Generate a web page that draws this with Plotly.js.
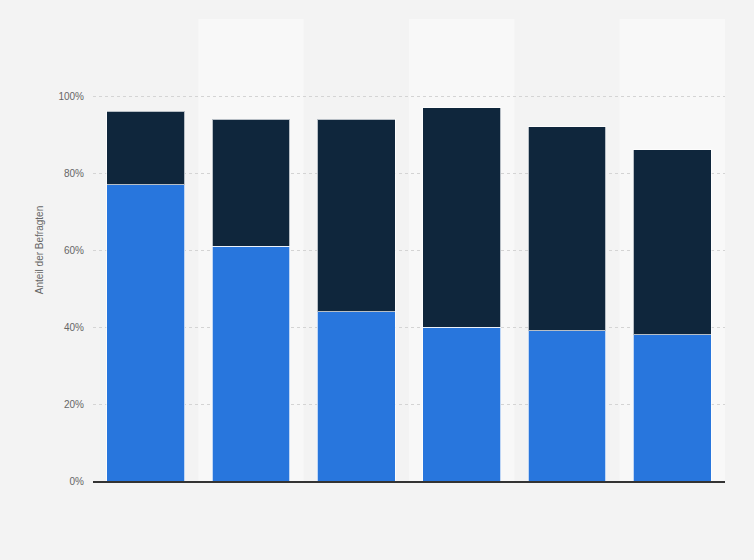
<!DOCTYPE html>
<html>
<head>
<meta charset="utf-8">
<script src="https://cdn.plot.ly/plotly-3.0.1.min.js"></script>
<style>
  html, body { margin: 0; padding: 0; background: #f4f4f4; }
  #chart { width: 754px; height: 560px; }
</style>
</head>
<body>
<div id="chart"></div>
<script>
// Categories (no labels shown in the reference)
const categories = ['A', 'B', 'C', 'D', 'E', 'F'];

// Lower (blue) segment and upper (dark) segment, in percent
const lowerValues = [77, 61, 44, 40, 39, 38];
const upperValues = [19, 33, 50, 57, 53, 48];

const yTickVals = [0, 20, 40, 60, 80, 100, 120];
const yTickText = ['0%', '20%', '40%', '60%', '80%', '100%', ''];

const barLine = { width: 1, color: 'rgba(255,255,255,0.7)' };

const traces = [
    {
        x: categories,
        y: lowerValues,
        type: 'bar',
        name: 'Anteil 1',
        marker: { color: '#2876dd', line: barLine },
        width: 0.74,
        hovertemplate: '%{y}%<extra></extra>'
    },
    {
        x: categories,
        y: upperValues,
        type: 'bar',
        name: 'Anteil 2',
        marker: { color: '#0f263c', line: barLine },
        width: 0.74,
        hovertemplate: '%{y}%<extra></extra>'
    }
];

// Alternating column bands behind every second category
const bands = [];
categories.forEach((c, i) => {
    if (i % 2 === 1) {
        bands.push({
            type: 'rect',
            xref: 'x',
            yref: 'paper',
            x0: i - 0.5,
            x1: i + 0.5,
            y0: 0,
            y1: 1,
            fillcolor: '#f8f8f8',
            line: { width: 0 },
            layer: 'below'
        });
    }
});

const layout = {
    width: 754,
    height: 560,
    barmode: 'stack',
    showlegend: false,
    paper_bgcolor: '#f3f3f3',
    plot_bgcolor: '#f3f3f3',
    font: { family: '"Liberation Sans", Arial, sans-serif', color: '#666', size: 10 },
    margin: { l: 93, r: 29, t: 19, b: 79 },
    shapes: bands,
    xaxis: {
        type: 'category',
        showticklabels: false,
        showgrid: false,
        ticks: '',
        showline: true,
        linecolor: '#333',
        linewidth: 1.5,
        range: [-0.5, categories.length - 0.5]
    },
    yaxis: {
        range: [0, 120],
        tickvals: yTickVals,
        ticktext: yTickText,
        showgrid: true,
        gridcolor: '#d4d4d4',
        griddash: 'dot',
        gridwidth: 1,
        zeroline: false,
        ticks: '',
        ticklabelstandoff: 8,
        tickfont: { size: 10, color: '#666' },
        title: {
            text: 'Anteil der Befragten',
            font: { size: 10, color: '#666' },
            standoff: 12
        }
    }
};

const config = {
    responsive: false,
    displayModeBar: false,
    staticPlot: true
};

Plotly.newPlot('chart', traces, layout, config);
</script>
</body>
</html>
